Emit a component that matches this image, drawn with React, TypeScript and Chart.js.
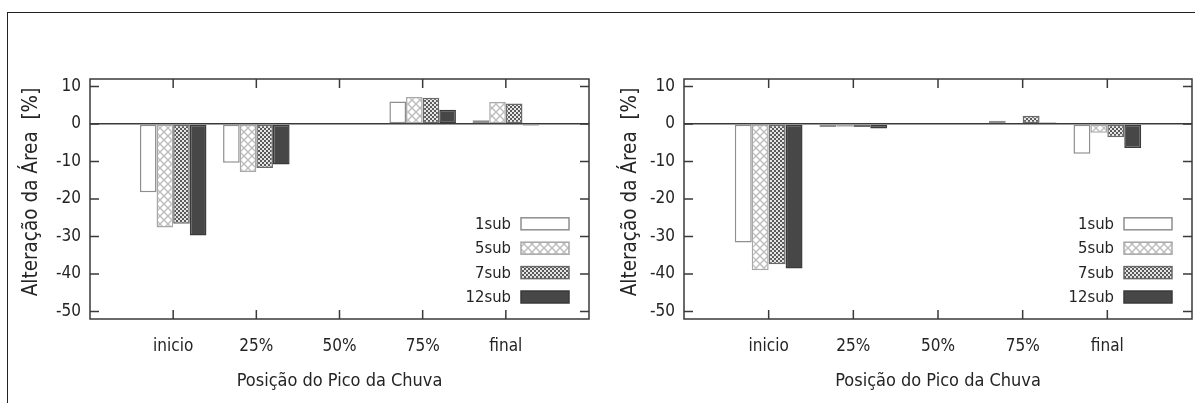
import { useEffect, useRef } from 'react';
import { Chart, registerables } from 'chart.js';

Chart.register(...registerables);

// ---------- data ----------
const categories = ['inicio', '25%', '50%', '75%', 'final'];
const seriesNames = ['1sub', '5sub', '7sub', '12sub'];

const leftSub1 = [-18.2, -10.3, 0, 6.0, 1.0];
const leftSub5 = [-27.6, -12.8, 0, 7.2, 5.9];
const leftSub7 = [-26.6, -11.7, 0, 7.0, 5.5];
const leftSub12 = [-29.7, -10.8, 0, 3.8, -0.4];

const rightSub1 = [-31.6, -0.8, 0, 0.9, -7.9];
const rightSub5 = [-39.0, -0.7, 0, 0.2, -2.3];
const rightSub7 = [-37.4, -0.8, 0, 2.2, -3.5];
const rightSub12 = [-38.5, -1.2, 0, 0.4, -6.4];

const yTickValues = [-50, -40, -30, -20, -10, 0, 10];
const yMin = -52;
const yMax = 12;
const xMin = 0;
const xMax = 6;
const xTitle = 'Posição do Pico da Chuva';
const yTitle = 'Alteração da Área  [%]';

// ---------- styles ----------
const FONT = "'DejaVu Sans Condensed', 'DejaVu Sans', sans-serif";
const TEXT = '#242424';
const LINE = '#3a3a3a';

type PanelProps = {
  left: number;
  width: number;
  axisWidth: number;
  padRight: number;
  titleCenterX: number;
  series: number[][];
};

function makeFills(ctx: CanvasRenderingContext2D) {
  const tile = (size: number, draw: (g: CanvasRenderingContext2D) => void) => {
    const c = document.createElement('canvas');
    c.width = size;
    c.height = size;
    const g = c.getContext('2d') as CanvasRenderingContext2D;
    draw(g);
    return ctx.createPattern(c, 'repeat') as CanvasPattern;
  };
  const cross = tile(8, (g) => {
    g.fillStyle = '#ffffff';
    g.fillRect(0, 0, 8, 8);
    g.strokeStyle = '#bdbdbd';
    g.lineWidth = 1.4;
    g.beginPath();
    g.moveTo(0, 0);
    g.lineTo(8, 8);
    g.moveTo(8, 0);
    g.lineTo(0, 8);
    g.stroke();
  });
  const checker = tile(4, (g) => {
    g.fillStyle = '#e6e6e6';
    g.fillRect(0, 0, 4, 4);
    g.fillStyle = '#5a5a5a';
    g.fillRect(0, 0, 2, 2);
    g.fillRect(2, 2, 2, 2);
  });
  return {
    fills: ['#ffffff', cross, checker, '#474747'] as (string | CanvasPattern)[],
    borders: ['#8e8e8e', '#a8a8a8', '#6a6a6a', '#3a3a3a'],
  };
}

const framePlugin = {
  id: 'gnuFrame',
  afterDatasetsDraw(chart: any) {
    const { ctx, chartArea } = chart;
    const { left, right, top, bottom } = chartArea;
    const xs = chart.scales.x;
    const ys = chart.scales.y;
    const tl = 9;
    ctx.save();
    ctx.strokeStyle = LINE;
    ctx.lineWidth = 1.5;
    ctx.beginPath();
    ctx.rect(left, top, right - left, bottom - top);
    for (const v of yTickValues) {
      const py = ys.getPixelForValue(v);
      ctx.moveTo(left, py);
      ctx.lineTo(left + tl, py);
      ctx.moveTo(right, py);
      ctx.lineTo(right - tl, py);
    }
    categories.forEach((_, i) => {
      const px = xs.getPixelForValue(i + 1);
      ctx.moveTo(px, bottom);
      ctx.lineTo(px, bottom - tl);
      ctx.moveTo(px, top);
      ctx.lineTo(px, top + tl);
    });
    ctx.stroke();
    ctx.restore();
  },
  afterDraw(chart: any, _args: any, opts: any) {
    const { ctx, chartArea } = chart;
    const { right, bottom, top } = chartArea;
    // legend
    const boxW = 48;
    const boxH = 12;
    const boxRight = right - 20;
    const textRight = boxRight - boxW - 10;
    const rowGap = 24.4;
    const lastRowY = bottom - 22;
    const n = chart.data.datasets.length;
    ctx.save();
    ctx.font = `16.5px ${FONT}`;
    ctx.textAlign = 'right';
    ctx.textBaseline = 'middle';
    chart.data.datasets.forEach((ds: any, i: number) => {
      const cy = lastRowY - (n - 1 - i) * rowGap;
      ctx.fillStyle = TEXT;
      ctx.fillText(ds.label, textRight, cy + 1);
      ctx.fillStyle = ds.backgroundColor;
      ctx.fillRect(boxRight - boxW, cy - boxH / 2, boxW, boxH);
      ctx.strokeStyle = ds.borderColor;
      ctx.lineWidth = 1.5;
      ctx.strokeRect(boxRight - boxW, cy - boxH / 2, boxW, boxH);
    });
    // y axis title
    ctx.translate(opts.titleX, (top + bottom) / 2 - 7);
    ctx.rotate(-Math.PI / 2);
    ctx.font = `20.5px ${FONT}`;
    ctx.textAlign = 'center';
    ctx.fillStyle = TEXT;
    ctx.fillText(yTitle, 0, 0);
    ctx.restore();
  },
};

function BarPanel({ left, width, axisWidth, padRight, titleCenterX, series }: PanelProps) {
  const ref = useRef<HTMLCanvasElement | null>(null);

  useEffect(() => {
    const canvas = ref.current;
    if (!canvas) return;
    const ctx = canvas.getContext('2d') as CanvasRenderingContext2D;
    const { fills, borders } = makeFills(ctx);

    const datasets = series.map((vals, si) => ({
      label: seriesNames[si],
      data: vals.map((v, i) => ({ x: i + 1, y: v })),
      backgroundColor: fills[si],
      borderColor: borders[si],
      borderWidth: 1.5,
      borderSkipped: false as const,
      categoryPercentage: 0.8,
      barPercentage: 1.0,
    }));

    const chart = new Chart(canvas, {
      type: 'bar',
      data: { datasets },
      plugins: [framePlugin],
      options: {
        animation: false,
        responsive: false,
        maintainAspectRatio: false,
        layout: { padding: { left: 0, right: padRight, top: 79, bottom: 0 } },
        plugins: {
          legend: { display: false },
          tooltip: { enabled: false },
          gnuFrame: { titleX: titleCenterX },
        } as any,
        scales: {
          x: {
            type: 'linear',
            min: xMin,
            max: xMax,
            offset: false,
            afterBuildTicks: (s: any) => {
              s.ticks = categories.map((_, i) => ({ value: i + 1 }));
            },
            afterFit: (s: any) => {
              s.height = 84;
            },
            grid: { display: false, drawTicks: false },
            border: { display: false },
            ticks: {
              color: TEXT,
              font: { family: FONT, size: 17 },
              padding: 17,
              maxRotation: 0,
              autoSkip: false,
              callback: (v: any) => categories[Number(v) - 1] ?? '',
            },
            title: {
              display: true,
              text: xTitle,
              color: TEXT,
              font: { family: FONT, size: 18 },
              padding: { top: 0, bottom: 11 },
            },
          },
          y: {
            type: 'linear',
            min: yMin,
            max: yMax,
            afterBuildTicks: (s: any) => {
              s.ticks = yTickValues.map((v) => ({ value: v }));
            },
            afterFit: (s: any) => {
              s.width = axisWidth;
            },
            grid: {
              drawTicks: false,
              color: (c: any) => (c.tick && c.tick.value === 0 ? LINE : 'rgba(0,0,0,0)'),
              lineWidth: 1.5,
            },
            border: { display: false },
            ticks: {
              color: TEXT,
              font: { family: FONT, size: 17 },
              padding: 9,
              callback: (v: any) => String(v),
            },
            title: { display: false },
          },
        },
      },
    });
    return () => chart.destroy();
  }, [axisWidth, padRight, titleCenterX, series]);

  return (
    <canvas
      ref={ref}
      width={width}
      height={403}
      style={{ position: 'absolute', left, top: 0, width, height: 403, display: 'block' }}
    />
  );
}

const leftSeries = [leftSub1, leftSub5, leftSub7, leftSub12];
const rightSeries = [rightSub1, rightSub5, rightSub7, rightSub12];

export default function App() {
  return (
    <div style={{ position: 'fixed', left: 0, top: 0, width: 1195, height: 403, background: '#fff', overflow: 'hidden' }}>
      <div
        style={{
          position: 'absolute',
          left: 7,
          top: 12,
          width: 1195,
          height: 400,
          borderTop: '1.5px solid #222',
          borderLeft: '1.5px solid #222',
        }}
      />
      <BarPanel left={0} width={600} axisWidth={90} padRight={11} titleCenterX={32} series={leftSeries} />
      <BarPanel left={600} width={595} axisWidth={84} padRight={3} titleCenterX={31} series={rightSeries} />
    </div>
  );
}
